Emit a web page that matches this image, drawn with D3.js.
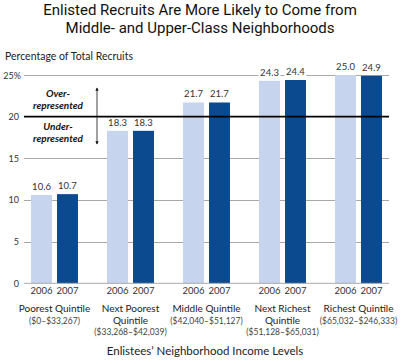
<!DOCTYPE html>
<html><head><meta charset="utf-8">
<script src="https://cdn.jsdelivr.net/npm/d3@7"></script>
<style>
html,body{margin:0;padding:0;background:#fff;}
svg{display:block;}
</style></head>
<body><svg id="c" width="400" height="360"></svg>
<script>
const categories = ["Poorest Quintile", "Next Poorest Quintile", "Middle Quintile", "Next Richest Quintile", "Richest Quintile"];
const categoryLines = [
  ["Poorest Quintile", "($0–$33,267)"],
  ["Next Poorest", "Quintile", "($33,268–$42,039)"],
  ["Middle Quintile", "($42,040–$51,127)"],
  ["Next Richest", "Quintile", "($51,128–$65,031)"],
  ["Richest Quintile", "($65,032–$246,333)"]
];
const years = ["2006", "2007"];
const values2006 = [10.6, 18.3, 21.7, 24.3, 25.0];
const values2007 = [10.7, 18.3, 21.7, 24.4, 24.9];
const yTicks = [0, 5, 10, 15, 20, 25];
const title = ["Enlisted Recruits Are More Likely to Come from", "Middle- and Upper-Class Neighborhoods"];

const colors = {"2006": "#c6d4ee", "2007": "#0b4a8e"};
const bodyFont = "Lato, 'Open Sans', sans-serif";

const svg = d3.select("#c");
const y = d3.scaleLinear().domain([0, 25]).range([283.3, 75]);
const x = d3.scaleBand().domain(categories).range([16.5, 396.5]).paddingInner(0.382).paddingOuter(0.191);
const xi = d3.scaleBand().domain(years).range([0, x.bandwidth()]).paddingInner(0.192).paddingOuter(0);

// title
svg.append("g").selectAll("text").data(title).join("text")
  .attr("x", 200).attr("y", (d, i) => 15 + i * 17.5)
  .attr("text-anchor", "middle")
  .style("font-family", "'Liberation Sans Narrow', 'Roboto', sans-serif")
  .style("font-size", "15px")
  .attr("fill", "#111")
  .text(d => d);

svg.append("text").attr("x", 5).attr("y", 60)
  .style("font-family", bodyFont).style("font-size", "10.5px").attr("fill", "#222")
  .text("Percentage of Total Recruits");

// gridlines & y labels
const gx0 = 24, gx1 = 389;
svg.append("g").selectAll("line").data(yTicks.filter(t => t > 0 && t !== 20)).join("line")
  .attr("x1", gx0).attr("x2", gx1)
  .attr("y1", d => Math.round(y(d)) + 0.5).attr("y2", d => Math.round(y(d)) + 0.5)
  .attr("stroke", "#a8a8a8").attr("stroke-width", 1);

svg.append("g").selectAll("text").data(yTicks).join("text")
  .attr("x", d => d === 25 ? 21 : 19).attr("y", d => y(d) + 3.5)
  .attr("text-anchor", "end")
  .style("font-family", bodyFont).style("font-size", "9px").attr("fill", "#333")
  .text(d => d === 25 ? "25%" : d);

// bars
const data = [];
categories.forEach((c, i) => {
  data.push({c, yr: "2006", v: values2006[i]});
  data.push({c, yr: "2007", v: values2007[i]});
});
svg.append("g").selectAll("rect").data(data).join("rect")
  .attr("x", d => x(d.c) + xi(d.yr))
  .attr("width", xi.bandwidth())
  .attr("y", d => y(d.v))
  .attr("height", d => y(0) - y(d.v))
  .attr("fill", d => colors[d.yr]);

// baseline
svg.append("line").attr("x1", gx0).attr("x2", gx1)
  .attr("y1", y(0)).attr("y2", y(0)).attr("stroke", "#a8a8a8");

// 20 line
svg.append("line").attr("x1", gx0).attr("x2", gx1)
  .attr("y1", y(20)).attr("y2", y(20)).attr("stroke", "#000").attr("stroke-width", 1.6);

// value labels
const vl = svg.append("g").selectAll("g").data(data).join("g")
  .attr("transform", d => `translate(${x(d.c) + xi(d.yr) + xi.bandwidth() / 2},${y(d.v) - 5})`);
vl.append("rect")
  .attr("x", -11).attr("y", -8).attr("width", 22).attr("height", 10)
  .attr("fill", d => d.v > 23 && d.v < 25 ? "#fff" : "none");
vl.append("text").attr("text-anchor", "middle")
  .style("font-family", bodyFont).style("font-size", "9.5px").attr("fill", "#333")
  .text(d => d.v.toFixed(1));

// year labels
svg.append("g").selectAll("text").data(data).join("text")
  .attr("x", d => x(d.c) + xi(d.yr) + xi.bandwidth() / 2)
  .attr("y", 294).attr("text-anchor", "middle")
  .style("font-family", bodyFont).style("font-size", "9.5px").attr("fill", "#333")
  .text(d => d.yr);

// category labels
const cl = svg.append("g").selectAll("text").data(categories).join("text")
  .attr("x", d => x(d) + x.bandwidth() / 2).attr("y", 312)
  .attr("text-anchor", "middle")
  .style("font-family", bodyFont).style("font-size", "10px").attr("fill", "#222");
cl.selectAll("tspan").data((d, i) => categoryLines[i].map((t, j) => ({t, j, n: categoryLines[i].length}))).join("tspan")
  .attr("x", function() { return d3.select(this.parentNode).attr("x"); })
  .attr("dy", d => d.j === 0 ? 0 : 11.5)
  .style("font-size", d => d.t.startsWith("(") ? "8.5px" : "10px")
  .attr("fill", d => d.t.startsWith("(") ? "#444" : "#222")
  .text(d => d.t);

svg.append("text").attr("x", 205).attr("y", 355).attr("text-anchor", "middle")
  .style("font-family", bodyFont).style("font-size", "11.5px").attr("fill", "#222")
  .text("Enlistees’ Neighborhood Income Levels");

// over/under annotation
const ann = [["Over-", 97], ["represented", 108.5], ["Under-", 130], ["represented", 141.5]];
svg.append("g").selectAll("text").data(ann).join("text")
  .attr("x", 58).attr("y", d => d[1]).attr("text-anchor", "middle")
  .style("font-family", bodyFont).style("font-size", "10px")
  .style("font-weight", "bold").style("font-style", "italic").attr("fill", "#111")
  .text(d => d[0]);

const defs = svg.append("defs");
defs.append("marker").attr("id", "ah").attr("viewBox", "0 0 6 6").attr("refX", 5).attr("refY", 3)
  .attr("markerWidth", 4).attr("markerHeight", 4).attr("orient", "auto-start-reverse")
  .append("path").attr("d", "M0,0L6,3L0,6Z").attr("fill", "#111");
svg.append("line").attr("x1", 97).attr("x2", 97).attr("y1", 88).attr("y2", 144)
  .attr("stroke", "#111").attr("stroke-width", 0.8)
  .attr("marker-start", "url(#ah)").attr("marker-end", "url(#ah)");
</script></body></html>
